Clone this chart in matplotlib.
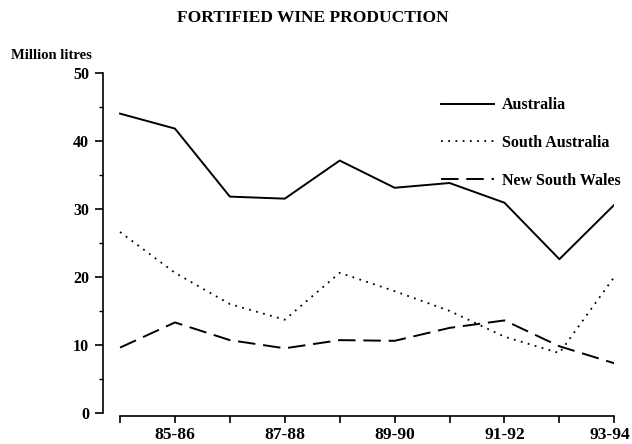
import matplotlib.pyplot as plt
import matplotlib.transforms as mtransforms
from matplotlib.ticker import MultipleLocator

years = ['84-85', '85-86', '86-87', '87-88', '88-89', '89-90',
         '90-91', '91-92', '92-93', '93-94']
australia = [44.0, 41.8, 31.8, 31.5, 37.1, 33.1, 33.8, 30.9, 22.6, 30.6]
south_aus = [26.6, 20.6, 16.0, 13.7, 20.6, 17.9, 15.0, 11.2, 8.8, 20.0]
nsw = [9.6, 13.3, 10.7, 9.5, 10.7, 10.6, 12.5, 13.6, 9.8, 7.3]

plt.rcParams['font.family'] = ['Liberation Serif', 'DejaVu Serif']
plt.rcParams['font.weight'] = 'bold'

fig = plt.figure(figsize=(6.32, 4.44), dpi=100)
ax = fig.add_axes([0.163, 0.07, 0.809, 0.766])

x = list(range(len(years)))
ax.plot(x, australia, color='black', lw=1.4, ls='-', label='Australia')
ax.plot(x, south_aus, color='black', lw=1.3, ls=(0, (1, 3)), label='South Australia')
ax.plot(x, nsw, color='black', lw=1.4, ls=(0, (9, 4)), label='New South Wales')

ax.set_xlim(-0.31, 9)
ax.set_ylim(0, 50)
ax.yaxis.set_major_locator(MultipleLocator(10))
ax.yaxis.set_minor_locator(MultipleLocator(5))
ax.set_xticks(x)
ax.set_xticklabels([y if i % 2 == 1 else '' for i, y in enumerate(years)])

for s in ['top', 'right']:
    ax.spines[s].set_visible(False)
ax.spines['bottom'].set_bounds(0, 9)
ax.spines['bottom'].set_position(('outward', 2))
ax.spines['left'].set_linewidth(1.2)
ax.spines['bottom'].set_linewidth(1.2)
ax.tick_params(axis='x', direction='out', length=5, width=1.2, pad=3, labelsize=12.5)
ax.tick_params(axis='y', which='major', direction='out', length=6, width=1.2,
               pad=4, labelsize=11.5)
ax.tick_params(axis='y', which='minor', direction='out', length=3, width=1.0)

# last label sits at the very edge, shift it left a few pixels
last = ax.get_xticklabels()[-1]
last.set_transform(last.get_transform() +
                   mtransforms.ScaledTranslation(-4 / 100, 0, fig.dpi_scale_trans))

fig.text(0.495, 0.96, 'FORTIFIED WINE PRODUCTION', ha='center', va='center',
         fontsize=12.5, fontweight='bold')
fig.text(0.018, 0.876, 'Million litres', ha='left', va='center',
         fontsize=10.5, fontweight='bold')

leg = ax.legend(loc='upper left', bbox_to_anchor=(0.633, 0.97), frameon=False,
                handlelength=3.3, handletextpad=0.5,
                labelspacing=1.35, prop={'weight': 'bold', 'size': 11.5})

fig.savefig('out.png', dpi=100)
